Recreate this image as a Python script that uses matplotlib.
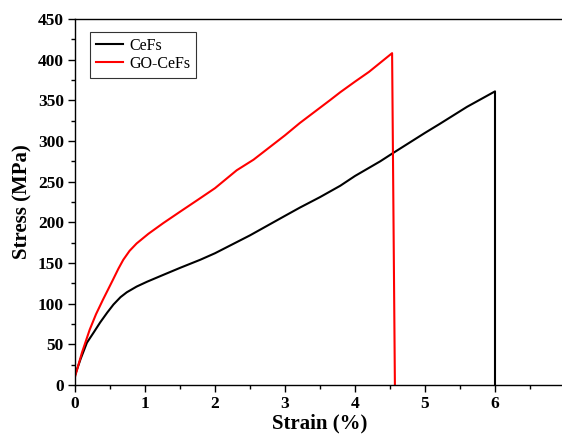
import matplotlib
matplotlib.use("Agg")
import matplotlib.pyplot as plt
from matplotlib.ticker import MultipleLocator

cefs_strain = [0.0, 0.08, 0.17, 0.27, 0.36, 0.46, 0.55, 0.65, 0.74, 0.88, 1.03, 1.25, 1.5, 1.79, 2.0, 2.5, 3.0, 3.21, 3.5, 3.79, 4.0, 4.36, 4.54, 5.0, 5.21, 5.6, 6.0, 6.0]
cefs_stress = [12, 32, 52, 65, 77, 89, 99, 108, 114, 121, 127, 135, 144, 154, 162, 184, 208, 218, 231, 245, 257, 275, 285, 310, 321, 342, 361, 0]

go_strain = [0.0, 0.1, 0.21, 0.3, 0.4, 0.54, 0.62, 0.69, 0.78, 0.88, 1.05, 1.26, 1.5, 1.76, 2.0, 2.31, 2.55, 3.0, 3.21, 3.64, 3.79, 4.0, 4.2, 4.53, 4.57]
go_stress = [10, 40, 68, 87, 105, 129, 143, 154, 165, 174, 186, 199, 213, 228, 242, 264, 277, 307, 322, 350, 360, 373, 385, 408, 0]

plt.rcParams['font.family'] = ['Liberation Serif', 'DejaVu Serif']

fig = plt.figure(figsize=(5.62, 4.36), dpi=100)
W, H = 562, 436
ax = fig.add_axes([75 / W, (H - 385) / H, 490 / W, 366 / H])

ax.plot(cefs_strain, cefs_stress, color='black', lw=1.5, label='CeFs')
ax.plot(go_strain, go_stress, color='red', lw=1.5, label='GO-CeFs')

ax.set_xlim(0, 7)
ax.set_ylim(0, 450)
ax.xaxis.set_major_locator(MultipleLocator(1))
ax.xaxis.set_minor_locator(MultipleLocator(0.5))
ax.yaxis.set_major_locator(MultipleLocator(50))
ax.yaxis.set_minor_locator(MultipleLocator(25))
ax.tick_params(which='major', direction='out', length=5, width=1, labelsize=12.5, pad=3, top=False, right=False)
ax.tick_params(which='minor', direction='out', length=3, width=1, top=False, right=False)
for lab in ax.get_xticklabels() + ax.get_yticklabels():
    lab.set_fontweight('bold')
for s in ax.spines.values():
    s.set_linewidth(1.0)

ax.set_xlabel('Strain (%)', fontsize=15, fontweight='bold', labelpad=1)
ax.set_ylabel('Stress (MPa)', fontsize=15, fontweight='bold', labelpad=4)

leg = ax.legend(loc='upper left', bbox_to_anchor=(15 / 490, 353 / 366), borderaxespad=0,
                fontsize=11.5, frameon=True, fancybox=False, edgecolor='black',
                handlelength=1.7, handletextpad=0.4, borderpad=0.35, labelspacing=0.15)
leg.get_frame().set_linewidth(0.8)

fig.savefig('out.png', dpi=100)
